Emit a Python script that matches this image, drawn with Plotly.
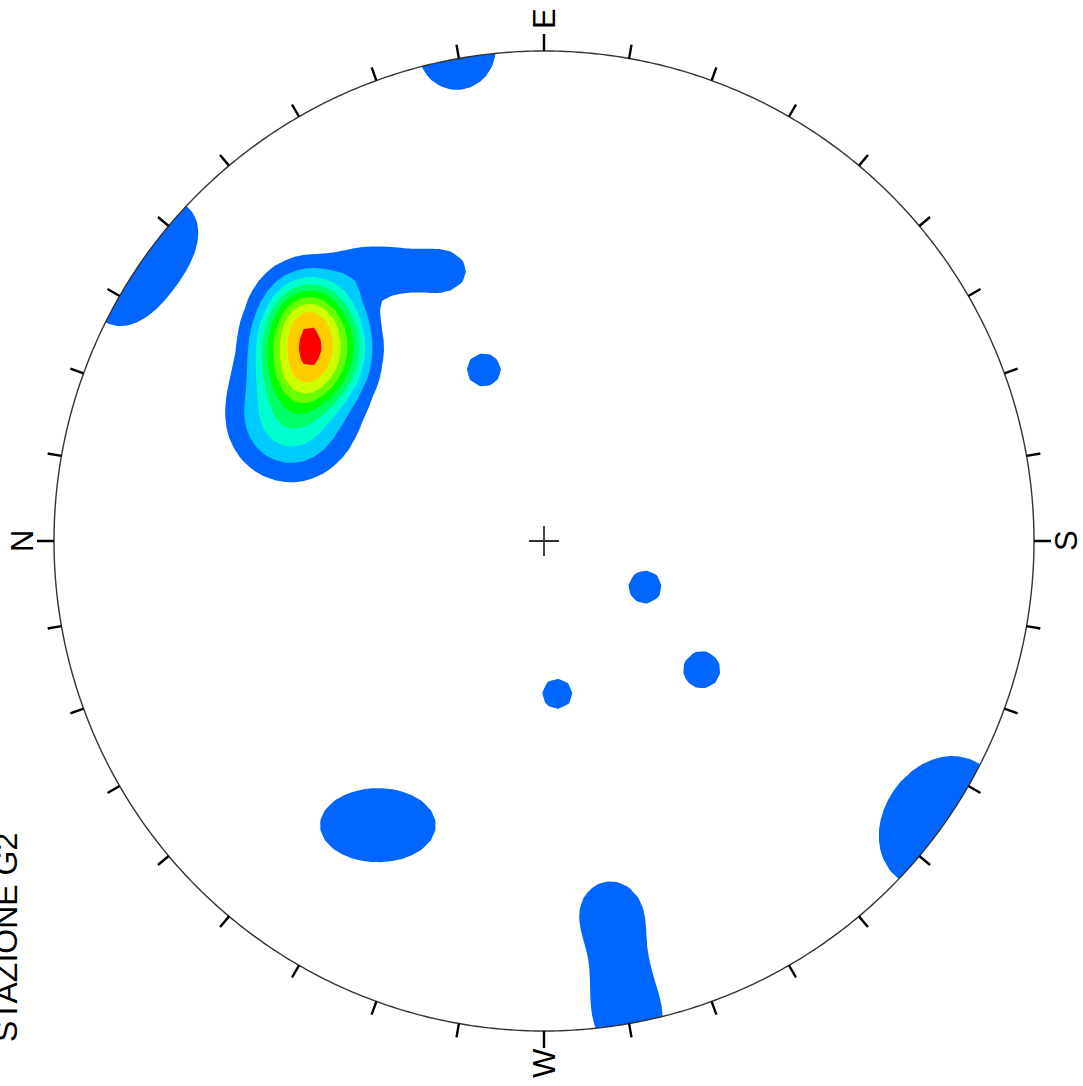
import numpy as np
import plotly.graph_objects as go

# ---------------- data (stereonet unit coordinates, image rotated: N left, E top) -------------
# density clusters: centre x, centre y, spread x, spread y, peak value, profile exponent
clu_x = [-0.4735, -0.4735, -0.4735, -0.518, -0.488, -0.202, -0.294, -0.375,
         -0.122, 0.206, 0.322, 0.027,
         -0.339,
         0.135, 0.155, 0.176,
         -0.178,
         -0.88, -0.82, -0.75,
         0.855, 0.81, 0.765]
clu_y = [0.396, 0.396, 0.392, 0.247, 0.49, 0.551, 0.555, 0.559,
         0.349, -0.094, -0.263, -0.312,
         -0.580,
         -0.753, -0.876, -0.988,
         1.002,
         0.475, 0.57, 0.66,
         -0.51, -0.575, -0.64]
clu_sx = [0.082, 0.112, 0.02, 0.078, 0.057, 0.045, 0.05, 0.05,
          0.047, 0.047, 0.053, 0.043,
          0.122,
          0.057, 0.061, 0.061,
          0.067,
          0.085, 0.085, 0.085,
          0.1, 0.1, 0.1]
clu_sy = [0.09, 0.112, 0.025, 0.078, 0.057, 0.04, 0.04, 0.045,
          0.047, 0.047, 0.053, 0.043,
          0.078,
          0.057, 0.071, 0.061,
          0.069,
          0.085, 0.085, 0.085,
          0.1, 0.1, 0.1]
clu_w = [6.5, 1.35, 0.7, 3.5, 2.0, 1.5, 1.2, 0.9,
         1.3, 1.3, 1.3, 1.3,
         1.6,
         1.6, 1.3, 1.5,
         2.0,
         0.85, 0.85, 0.85,
         0.8, 0.8, 0.8]
clu_p = [3, 2, 2, 2, 2, 2, 2, 2,
         2, 2, 2, 2,
         2,
         2, 2, 2,
         2,
         2, 2, 2,
         2, 2, 2]

levels = [1, 2, 3, 4, 5, 6, 7, 8, 9]
band_colors = ["#FFFFFF", "#0066FF", "#00CCFF", "#00FFCC", "#00FF66",
               "#00FF00", "#66FF00", "#CCFF00", "#FFCC00", "#FF0000"]

compass = ["N", "E", "S", "W"]
compass_az = [0, 90, 180, 270]
tick_az = list(range(0, 360, 10))
title = "STAZIONE G2"

# ---------------- geometry of the page ----------------
W, H = 1083, 1086
CX, CY, R = 544, 541, 490  # pixel centre & radius of the net


def px2u(px, py):
    return (px - CX) / R, (CY - py) / R


xr = [px2u(0, 0)[0], px2u(W, 0)[0]]
yr = [px2u(0, H)[1], px2u(0, 0)[1]]


def az2xy(az, r=1.0):
    t = np.radians(180 - np.asarray(az, dtype=float))
    return r * np.cos(t), r * np.sin(t)


# ---------------- density grid ----------------
g = np.arange(-1.13, 1.1301, 0.02)
GX, GY = np.meshgrid(g, g)
Z = np.zeros_like(GX)
for x0, y0, sx, sy, w, p in zip(clu_x, clu_y, clu_sx, clu_sy, clu_w, clu_p):
    q = ((GX - x0) / sx) ** 2 + ((GY - y0) / sy) ** 2
    Z += w * np.exp(-0.5 * q ** (p / 2))

n = len(band_colors) - 1
cscale = [[i / n, c] for i, c in enumerate(band_colors)]

fig = go.Figure()
fig.add_trace(go.Contour(
    x=g, y=g, z=Z,
    contours=dict(start=levels[0], end=levels[-1], size=1, coloring="fill", showlines=False),
    colorscale=cscale, showscale=False,
    line=dict(width=0, smoothing=0.3),
    hoverinfo="skip",
))

# mask outside the net
th = np.linspace(0, 2 * np.pi, 721)
circ = " L ".join(f"{np.cos(a):.5f},{np.sin(a):.5f}" for a in th)
outer = (f"M {xr[0]-0.1},{yr[0]-0.1} L {xr[1]+0.1},{yr[0]-0.1} "
         f"L {xr[1]+0.1},{yr[1]+0.1} L {xr[0]-0.1},{yr[1]+0.1} Z")
fig.add_shape(type="path", path=outer + " M " + circ + " Z", fillcolor="white",
              line=dict(width=0), fillrule="evenodd", layer="above", xref="x", yref="y")

# primitive circle
fig.add_shape(type="path", path="M " + circ + " Z", line=dict(color="#333333", width=1.4),
              layer="above", xref="x", yref="y")

# ticks
segs = []
for az in tick_az:
    L = 1 + (17 if az % 90 == 0 else 14) / R
    x0, y0 = az2xy(az, 1.0)
    x1, y1 = az2xy(az, L)
    segs.append(f"M {x0:.5f},{y0:.5f} L {x1:.5f},{y1:.5f}")
fig.add_shape(type="path", path=" ".join(segs), line=dict(color="black", width=2.4),
              layer="above", xref="x", yref="y")

# centre cross
c = 15 / R
fig.add_shape(type="path", path=f"M {-c},0 L {c},0 M 0,{-c} L 0,{c}",
              line=dict(color="#333333", width=1.8), layer="above", xref="x", yref="y")

# compass labels
for lab, az in zip(compass, compass_az):
    lx, ly = az2xy(az, 1 + 32 / R)
    fig.add_annotation(x=float(lx), y=float(ly), xref="x", yref="y", text=lab, showarrow=False,
                       textangle=-90, font=dict(family="Liberation Sans, Arial", size=31, color="black"),
                       xanchor="center", yanchor="middle")

# title (rotated, partly cut at the left edge)
tx_, ty_ = px2u(6, 938)
fig.add_annotation(x=tx_, y=ty_, xref="x", yref="y", text=title, showarrow=False, textangle=-90,
                   font=dict(family="Liberation Sans, Arial", size=32, color="black"),
                   xanchor="center", yanchor="middle")

fig.update_xaxes(range=xr, visible=False, showgrid=False, zeroline=False)
fig.update_yaxes(range=yr, visible=False, showgrid=False, zeroline=False)
fig.update_layout(width=W, height=H, margin=dict(l=0, r=0, t=0, b=0),
                  plot_bgcolor="white", paper_bgcolor="white", showlegend=False)
fig.write_html("out.html", config={"displayModeBar": False},
               post_script="document.body.style.margin='0px';")
